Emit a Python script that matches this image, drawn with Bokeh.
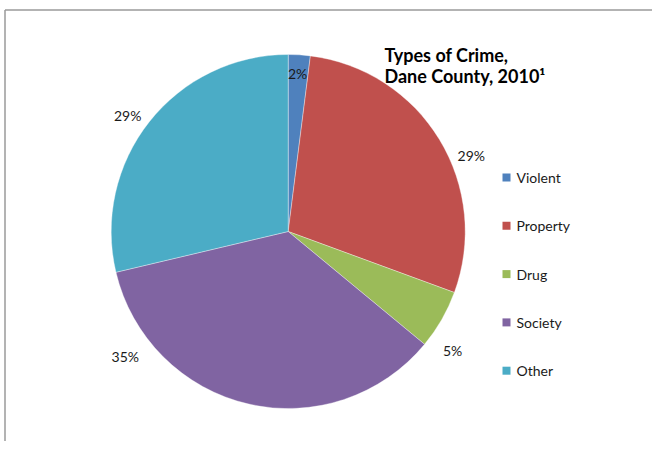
import math
from bokeh.plotting import figure
from bokeh.models import Range1d, ColumnDataSource
from bokeh.core.properties import value
from bokeh.embed import file_html
from bokeh.resources import INLINE

# ---- data ----
categories = ["Violent", "Property", "Drug", "Society", "Other"]
shares = [2.0, 28.6, 5.4, 35.3, 28.7]          # percent of crimes
colors = ["#4F81BD", "#C0504D", "#9BBB59", "#8064A2", "#4BACC6"]
title_lines = ["Types of Crime,", "Dane County, 2010\u00b9"]

# ---- layout (page-pixel style coordinates; y measured upward from page bottom) ----
W, H = 652, 441
PAGE_H = 449
cx, cy = 287.7, PAGE_H - 231.0
R = 177.0
# label placement: angle (deg, clockwise from 12 o'clock) and radius factor
label_angle = [3.4, 67.5, 125.9, 232.5, 305.9]
label_rfac = [0.895, 1.12, 1.147, 1.16, 1.12]

p = figure(width=W, height=H, output_backend="svg", toolbar_location=None,
           x_range=Range1d(0, W), y_range=Range1d(PAGE_H - H, PAGE_H),
           min_border=0, outline_line_color=None)
p.axis.visible = False
p.grid.visible = False
p.background_fill_color = "white"
p.border_fill_color = "white"

total = sum(shares)
starts, ends = [], []
cum = 0.0
for s in shares:
    a0 = math.pi / 2 - 2 * math.pi * cum / total
    cum += s
    a1 = math.pi / 2 - 2 * math.pi * cum / total
    starts.append(a0)
    ends.append(a1)

src = ColumnDataSource(dict(start=starts, end=ends, color=colors, cat=categories))
p.wedge(x=cx, y=cy, radius=R, start_angle="start", end_angle="end",
        direction="clock", fill_color="color", line_color="white",
        line_width=0.6, line_alpha=0.6, source=src)

# percent labels
lx, ly, lt = [], [], []
for s, ang, rf in zip(shares, label_angle, label_rfac):
    t = math.radians(ang)
    lx.append(cx + R * rf * math.sin(t))
    ly.append(cy + R * rf * math.cos(t))
    lt.append(f"{round(s / total * 100 + 1e-9):.0f}%")
p.text(x=lx, y=ly, text=lt, text_align="center", text_baseline="middle",
       text_font=value("Lato"), text_font_size="14px", text_color="#1a1a1a")

# title
p.text(x=[384, 384], y=[PAGE_H - 54, PAGE_H - 75], text=title_lines,
       text_align="left", text_baseline="middle", text_font=value("Lato"),
       text_font_size="18px", text_font_style="bold", text_color="#000000")

# legend
leg_y = [PAGE_H - (177 + 48.3 * i) for i in range(len(categories))]
p.rect(x=[506] * len(categories), y=leg_y, width=8, height=8,
       fill_color=colors, line_color=None)
p.text(x=[516] * len(categories), y=leg_y, text=categories, text_align="left",
       text_baseline="middle", text_font=value("Lato"), text_font_size="14px",
       text_color="#1a1a1a")

# chart-area frame (top and left edges visible)
p.segment(x0=[4.5, 4.5], y0=[PAGE_H - 9.5, PAGE_H - 9.5],
          x1=[W, 4.5], y1=[PAGE_H - 9.5, PAGE_H - H],
          line_color="#9a9a9a", line_width=1.5)

open("out.html", "w").write(file_html(p, INLINE))
